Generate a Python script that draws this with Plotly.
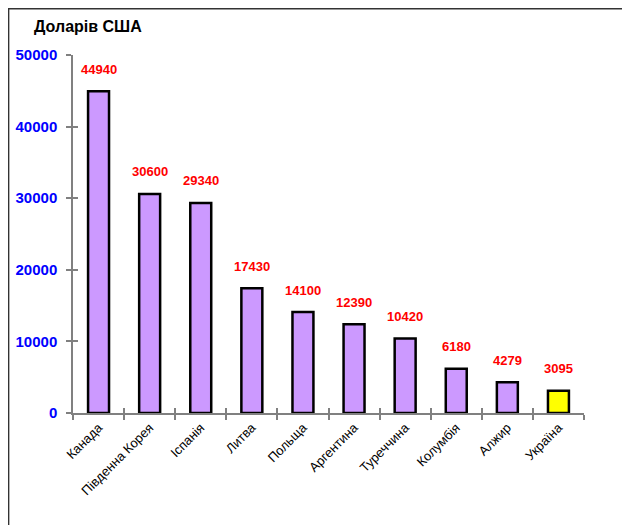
"""ВВП на душу населення: порівняння країн (доларів США)"""
import plotly.graph_objects as go

countries = ["Канада", "Південна Корея", "Іспанія", "Литва", "Польща",
             "Аргентина", "Туреччина", "Колумбія", "Алжир", "Україна"]
values = [44940, 30600, 29340, 17430, 14100, 12390, 10420, 6180, 4279, 3095]
y_ticks = [0, 10000, 20000, 30000, 40000, 50000]

COLOR_BAR = "#cc99ff"
COLOR_UA = "#ffff00"
AXIS_GREY = "#808080"
colors = [COLOR_UA if c == "Україна" else COLOR_BAR for c in countries]

fig = go.Figure()
fig.add_trace(go.Bar(
    x=countries, y=values,
    marker=dict(color=colors, line=dict(color="#000000", width=2.5)),
    hoverinfo="x+y",
))

# підписи значень над стовпчиками
for c, v in zip(countries, values):
    fig.add_annotation(x=c, y=v, text=f"<b>{v}</b>", showarrow=False,
                       yshift=22, font=dict(color="#ff0000", size=13))

fig.add_annotation(text="<b>Доларів США</b>", xref="paper", yref="paper",
                   x=-0.08, y=1.05, xanchor="left", yanchor="bottom",
                   showarrow=False, font=dict(size=16, color="#000000"))

# рамка
fig.add_shape(type="rect", xref="paper", yref="paper",
              x0=-0.126, y0=-0.4, x1=1.2, y1=1.129,
              line=dict(color="#333333", width=1.5))

# межі категорій для "внутрішніх" рисок осі X
bounds = [i - 0.5 for i in range(len(countries) + 1)]

fig.update_layout(
    width=630, height=525,
    margin=dict(l=65, r=54, t=47, b=120),
    plot_bgcolor="#ffffff", paper_bgcolor="#ffffff",
    font=dict(family="Arial, Liberation Sans, sans-serif", color="#000000"),
    bargap=0.59,
    showlegend=False,
    xaxis=dict(
        automargin=False,
        showline=True, linecolor=AXIS_GREY, linewidth=2,
        ticks="outside", ticklen=5, tickcolor=AXIS_GREY, tickwidth=1.5,
        tickson="boundaries", tickangle=-45,
        tickfont=dict(size=13, color="#000000"),
        showgrid=False,
    ),
    xaxis2=dict(
        overlaying="x", type="linear", range=[-0.5, len(countries) - 0.5],
        tickvals=bounds, ticks="inside", ticklen=5, tickcolor=AXIS_GREY,
        tickwidth=1.5, showticklabels=False, showline=False, showgrid=False,
        zeroline=False, automargin=False,
    ),
    yaxis=dict(
        automargin=False,
        range=[0, 50000], tickvals=y_ticks,
        ticktext=[f"<b>{t}</b>" for t in y_ticks],
        showline=True, linecolor=AXIS_GREY, linewidth=1.5,
        ticks="outside", ticklen=5, tickcolor=AXIS_GREY, tickwidth=1.5,
        ticklabelstandoff=6,
        tickfont=dict(size=15, color="#0000ff"),
        showgrid=False, zeroline=False,
    ),
    yaxis2=dict(
        overlaying="y", range=[0, 50000], tickvals=y_ticks,
        ticks="inside", ticklen=5, tickcolor=AXIS_GREY, tickwidth=1.5,
        showticklabels=False, showline=False, showgrid=False,
        zeroline=False, automargin=False,
    ),
)

# невидимий слід, щоб показати допоміжні осі
fig.add_trace(go.Scatter(x=[None], y=[None], xaxis="x2", yaxis="y2",
                         hoverinfo="skip", showlegend=False))

fig.write_html("out.html")
